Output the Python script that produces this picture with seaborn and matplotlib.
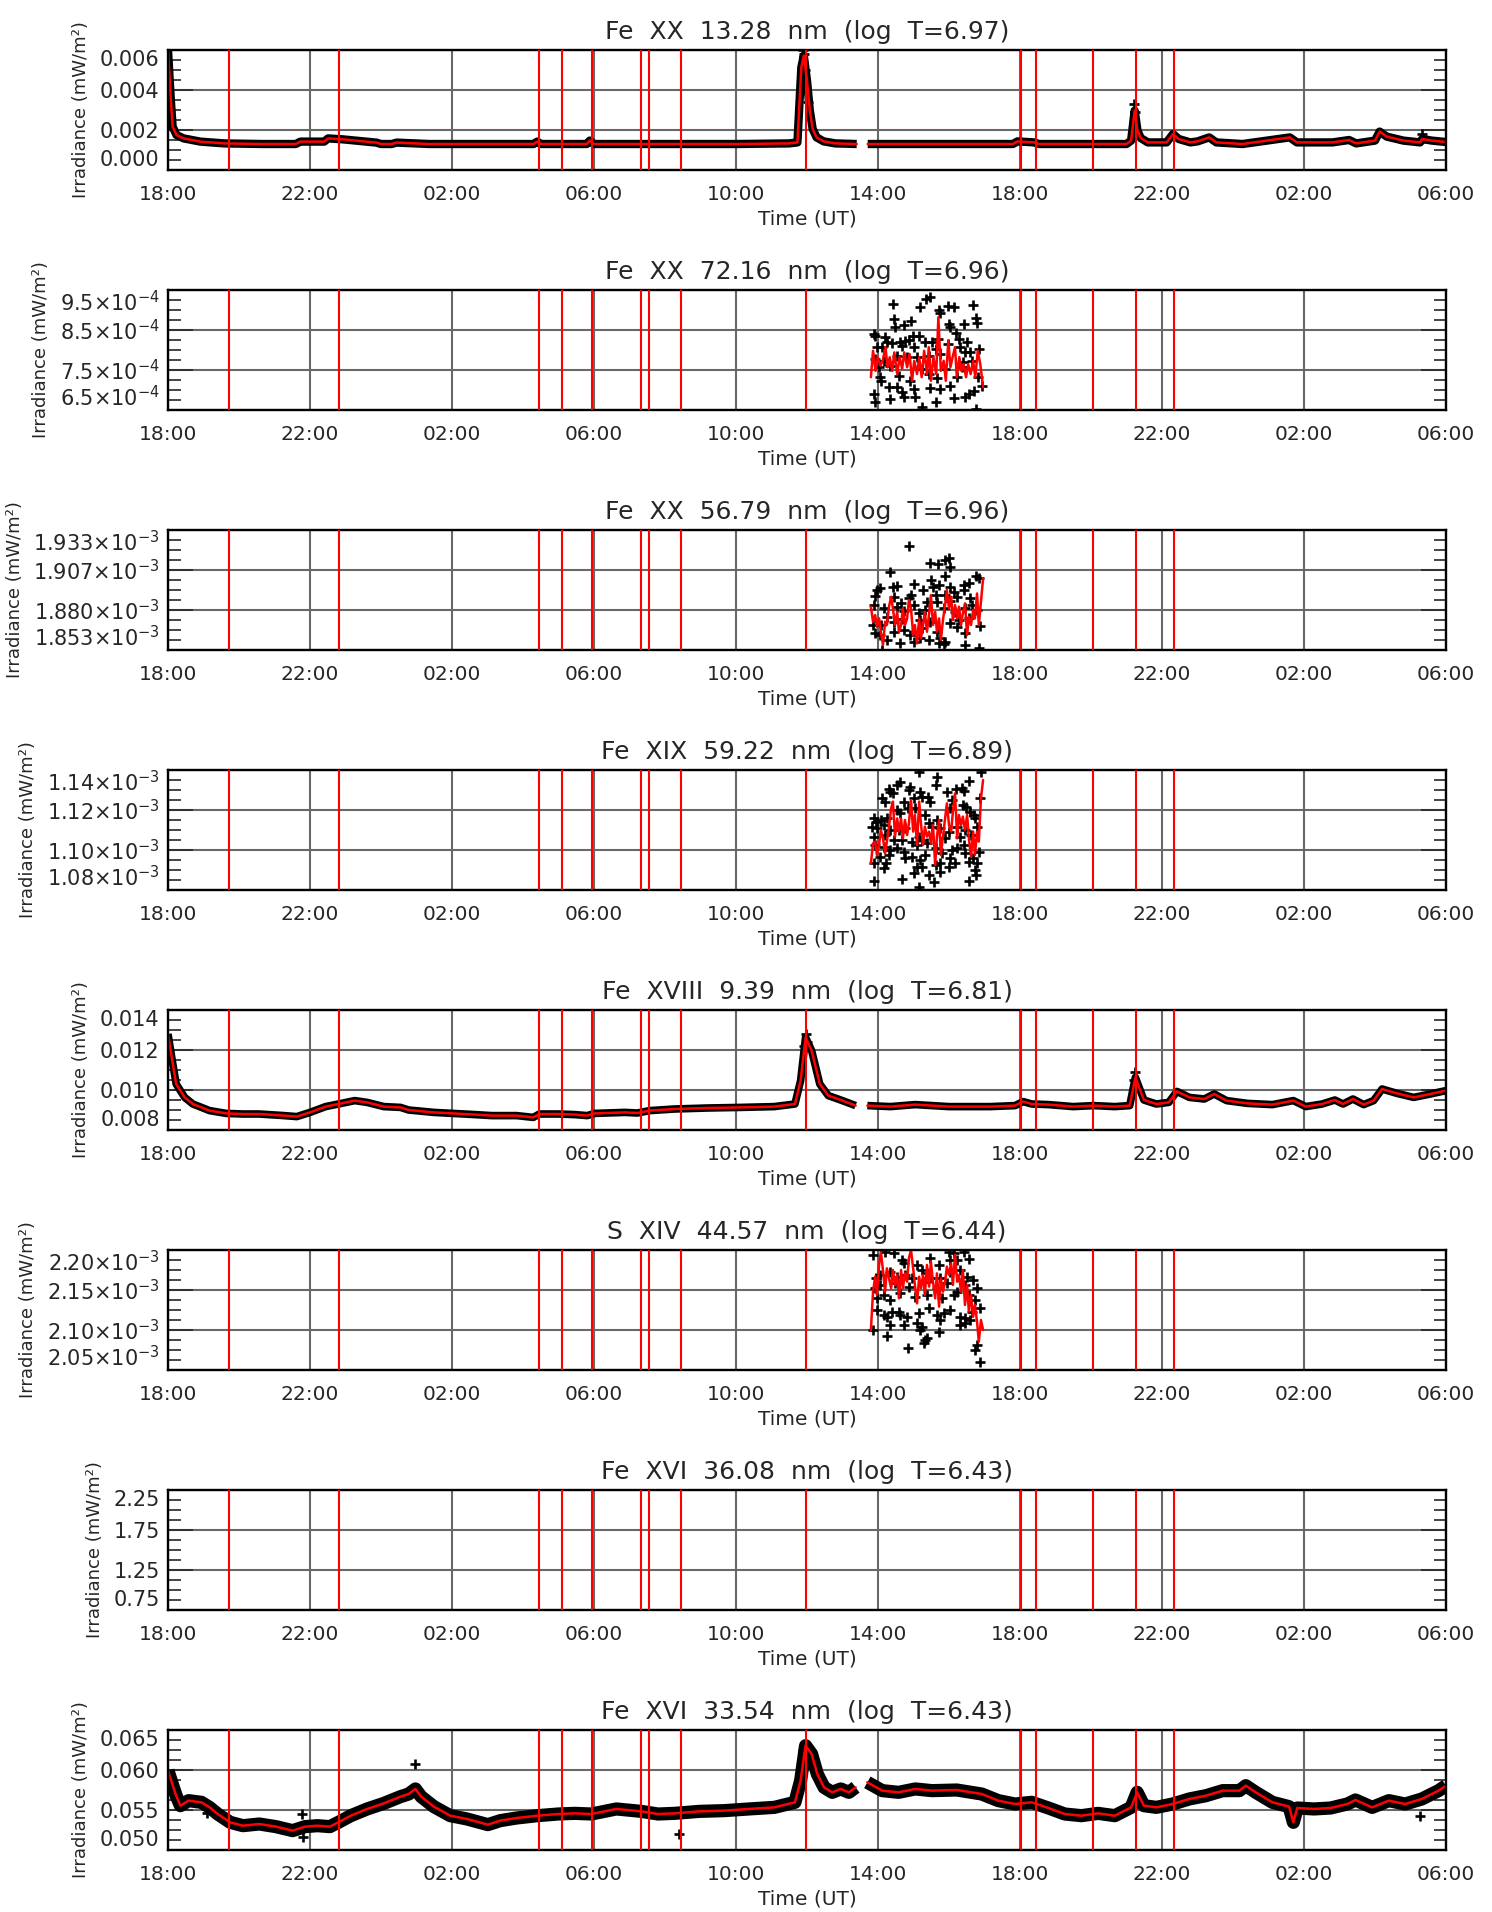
import matplotlib
matplotlib.use("Agg")
import matplotlib.pyplot as plt
from matplotlib.ticker import AutoMinorLocator
import numpy as np
import pandas as pd
import seaborn as sns

# x axis: hours after 18:00 UT on the first day
tick_hours = [0, 4, 8, 12, 16, 20, 24, 28, 32, 36]
tick_labels = ["18:00", "22:00", "02:00", "06:00", "10:00", "14:00",
               "18:00", "22:00", "02:00", "06:00"]
event_hours = [1.71, 4.82, 10.46, 11.09, 11.93, 13.33, 13.54, 14.46, 17.96,
               24.02, 24.44, 26.06, 27.27, 28.35]
gap_hour = 19.55

titles = ["Fe  XX  13.28  nm  (log  T=6.97)",
          "Fe  XX  72.16  nm  (log  T=6.96)",
          "Fe  XX  56.79  nm  (log  T=6.96)",
          "Fe  XIX  59.22  nm  (log  T=6.89)",
          "Fe  XVIII  9.39  nm  (log  T=6.81)",
          "S  XIV  44.57  nm  (log  T=6.44)",
          "Fe  XVI  36.08  nm  (log  T=6.43)",
          "Fe  XVI  33.54  nm  (log  T=6.43)"]

# ---- Fe XX 13.28 nm (mW/m2)
fe20_133_t = [0.00, 0.08, 0.13, 0.24, 0.44, 0.91, 1.58, 2.66, 3.60, 3.73,
              4.40, 4.51, 4.94, 5.87, 6.00, 6.30, 6.44, 7.35, 10.30, 10.40,
              10.51, 11.80, 11.88, 12.00, 14.00, 16.00, 17.50, 17.73, 17.84, 17.91,
              18.00, 18.08, 18.16, 18.27, 18.47, 18.80, 19.40, 19.71, 21.00, 22.50,
              23.80, 23.93, 24.40, 24.53, 26.00, 27.00, 27.13, 27.23, 27.31, 27.40,
              27.60, 28.13, 28.31, 28.47, 28.80, 29.00, 29.33, 29.53, 30.27, 31.60,
              31.80, 32.80, 33.27, 33.47, 34.00, 34.13, 34.33, 34.80, 35.27, 35.33,
              35.60, 36.00]
fe20_133_v = [0.0060, 0.0035, 0.00217, 0.00175, 0.00158, 0.00142, 0.00133, 0.0013, 0.0013, 0.00142,
              0.00142, 0.00158, 0.00153, 0.00137, 0.0013, 0.0013, 0.00137, 0.0013, 0.0013, 0.00142,
              0.0013, 0.0013, 0.00147, 0.0013, 0.0013, 0.0013, 0.00133, 0.00138, 0.00513, 0.00572,
              0.00447, 0.00297, 0.00205, 0.00163, 0.00143, 0.00133, 0.0013, 0.0013, 0.0013, 0.0013,
              0.0013, 0.00143, 0.00138, 0.0013, 0.0013, 0.0013, 0.00147, 0.00297, 0.00197, 0.0016,
              0.00138, 0.00138, 0.0018, 0.00155, 0.00138, 0.00143, 0.00163, 0.00138, 0.0013, 0.00163,
              0.00138, 0.00138, 0.0015, 0.00133, 0.00147, 0.00192, 0.00167, 0.00147, 0.00138, 0.00155,
              0.00147, 0.0014]
fe20_133_pt_t = [17.86, 17.88, 17.90, 17.92, 17.95, 17.97, 18.02, 27.22, 27.24, 35.33]
fe20_133_pt_v = [0.0044, 0.0052, 0.0060, 0.0058, 0.0050, 0.0041, 0.0034, 0.0033, 0.0029, 0.0018]

# ---- common time stamps of the short afternoon series
flare_t = [19.80, 19.86, 19.92, 19.97, 20.03, 20.08, 20.14, 20.20, 20.25, 20.31,
           20.37, 20.42, 20.48, 20.54, 20.59, 20.65, 20.70, 20.76, 20.82, 20.87,
           20.93, 20.99, 21.04, 21.10, 21.16, 21.21, 21.27, 21.32, 21.38, 21.44,
           21.49, 21.55, 21.61, 21.66, 21.72, 21.77, 21.83, 21.89, 21.94, 22.00,
           22.06, 22.11, 22.17, 22.23, 22.28, 22.34, 22.39, 22.45, 22.51, 22.56,
           22.62, 22.68, 22.73, 22.79, 22.84, 22.90, 22.96]

# ---- Fe XX 72.16 nm (1e-4 mW/m2)
fe20_721_t = [19.80, 19.86, 19.93, 19.99, 20.07, 20.13, 20.21, 20.27, 20.33, 20.40,
              20.46, 20.54, 20.61, 20.68, 20.74, 20.82, 20.89, 20.96, 21.02, 21.10,
              21.16, 21.23, 21.30, 21.38, 21.43, 21.49, 21.56, 21.64, 21.70, 21.77,
              21.85, 21.91, 21.98, 22.04, 22.10, 22.17, 22.22, 22.29, 22.35, 22.41,
              22.48, 22.54, 22.61, 22.68, 22.74, 22.81, 22.88, 22.96]
fe20_721_v = [7.32, 7.98, 7.48, 7.82, 7.61, 7.73, 8.07, 7.57, 7.82, 7.48,
              7.94, 7.40, 7.82, 7.53, 7.94, 7.57, 7.90, 7.23, 7.73, 7.40,
              7.82, 7.32, 7.98, 7.40, 8.07, 7.23, 7.82, 7.40, 8.82, 7.48,
              7.73, 7.23, 8.23, 7.57, 7.82, 8.07, 7.32, 7.82, 7.48, 7.65,
              7.32, 7.65, 7.40, 7.73, 7.32, 7.98, 7.65, 7.07]
fe20_721_pt_t = [20.41, 21.19, 21.36, 21.46, 21.71, 21.96, 22.13, 22.69, 20.44, 20.72,
                 20.94, 20.47, 21.74, 21.99, 22.77, 22.79, 22.41, 22.04, 19.88, 19.92,
                 20.19, 20.25, 20.61, 20.77, 20.86, 20.98, 21.15, 21.31, 21.52, 21.68,
                 22.21, 22.27, 22.51, 19.97, 20.11, 20.39, 20.68, 21.00, 21.62, 21.96,
                 22.32, 22.46, 22.60, 22.85, 19.91, 20.18, 20.54, 20.82, 21.10, 21.45,
                 21.76, 22.39, 22.65, 20.02, 20.35, 21.24, 21.90, 22.37, 20.07, 20.09,
                 20.60, 20.91, 21.43, 21.66, 22.23, 22.82, 22.93, 20.30, 20.54, 20.68,
                 21.00, 21.47, 21.76, 22.04, 22.55, 22.71, 19.88, 19.92, 20.33, 20.72,
                 21.05, 21.64, 22.13, 22.46, 21.24, 22.77]
fe20_721_pt_v = [9.15, 9.08, 9.28, 9.32, 9.00, 9.11, 9.08, 9.13, 8.78, 8.63,
                 8.72, 8.57, 8.92, 8.65, 8.79, 8.67, 8.65, 8.57, 8.40, 8.36,
                 8.33, 8.21, 8.19, 8.23, 8.25, 8.36, 8.36, 8.19, 8.19, 8.28,
                 8.42, 8.28, 8.21, 8.07, 8.07, 8.17, 8.11, 8.07, 8.03, 8.15,
                 8.07, 7.94, 7.94, 8.03, 7.78, 7.73, 7.86, 7.82, 7.82, 7.86,
                 7.90, 7.69, 7.73, 7.57, 7.61, 7.53, 7.53, 7.58, 7.32, 7.23,
                 7.36, 7.23, 7.40, 7.30, 7.32, 7.32, 7.11, 7.07, 7.07, 6.94,
                 7.03, 7.05, 7.03, 7.11, 6.90, 6.98, 6.90, 6.69, 6.78, 6.83,
                 6.82, 6.69, 6.80, 6.82, 6.57, 6.53]

# ---- Fe XX 56.79 nm (1e-3 mW/m2)
fe20_568_v = [1.8822, 1.8722, 1.8766, 1.8688, 1.8744, 1.8655, 1.8566, 1.8722, 1.8700, 1.8822,
              1.8888, 1.8811, 1.8700, 1.8788, 1.8655, 1.8700, 1.8811, 1.8700, 1.8744, 1.8866,
              1.8811, 1.8633, 1.8700, 1.8577, 1.8744, 1.8611, 1.8700, 1.8788, 1.8655, 1.8777,
              1.8899, 1.8700, 1.8788, 1.8655, 1.8744, 1.8600, 1.8733, 1.8833, 1.8933, 1.8811,
              1.8888, 1.8733, 1.8833, 1.8744, 1.8822, 1.8700, 1.8777, 1.8844, 1.8633, 1.8755,
              1.8700, 1.8799, 1.8744, 1.8910, 1.8700, 1.8855, 1.9010]
fe20_568_pt_t = [20.86, 21.47, 21.68, 21.90, 21.99, 22.04, 21.88, 20.33, 21.50, 22.77,
                 22.84, 22.55, 22.41, 21.00, 20.42, 20.54, 20.05, 19.91, 19.97, 21.27,
                 21.55, 21.71, 22.04, 22.13, 22.41, 20.94, 20.44, 21.62, 21.90, 22.23,
                 20.66, 20.86, 21.00, 21.38, 21.66, 22.04, 22.60, 22.65, 19.88, 20.16,
                 20.54, 20.74, 21.15, 21.33, 21.85, 22.18, 22.46, 22.79, 20.25, 20.44,
                 20.68, 21.19, 21.47, 22.04, 22.27, 22.55, 22.88, 19.86, 20.08, 19.92,
                 20.05, 20.44, 20.72, 21.24, 21.66, 22.23, 22.46, 20.25, 20.91, 21.19,
                 21.43, 21.76, 21.90, 20.63, 21.00, 21.71, 21.85, 22.46, 20.11, 22.84]
fe20_568_pt_v = [1.9228, 1.9115, 1.9104, 1.9132, 1.9144, 1.9088, 1.9028, 1.9055, 1.8999, 1.9028,
                 1.9010, 1.8977, 1.8966, 1.8970, 1.8955, 1.8959, 1.8948, 1.8895, 1.8933, 1.8933,
                 1.8955, 1.8966, 1.8955, 1.8922, 1.8933, 1.8899, 1.8888, 1.8899, 1.8899, 1.8888,
                 1.8844, 1.8877, 1.8833, 1.8855, 1.8855, 1.8859, 1.8877, 1.8833, 1.8833, 1.8811,
                 1.8822, 1.8793, 1.8777, 1.8799, 1.8811, 1.8788, 1.8811, 1.8799, 1.8755, 1.8722,
                 1.8739, 1.8733, 1.8722, 1.8711, 1.8733, 1.8744, 1.8693, 1.8700, 1.8700, 1.8644,
                 1.8633, 1.8655, 1.8666, 1.8677, 1.8655, 1.8688, 1.8644, 1.8600, 1.8633, 1.8611,
                 1.8600, 1.8611, 1.8589, 1.8577, 1.8589, 1.8577, 1.8571, 1.8566, 1.8533, 1.8549]

# ---- Fe XIX 59.22 nm (1e-3 mW/m2)
fe19_592_v = [1.0933, 1.1033, 1.1042, 1.0975, 1.1025, 1.1100, 1.1058, 1.0983, 1.1042, 1.1117,
              1.1208, 1.1242, 1.1067, 1.1158, 1.1092, 1.1158, 1.1058, 1.1150, 1.1075, 1.1133,
              1.1250, 1.1092, 1.1175, 1.1025, 1.1242, 1.1133, 1.1025, 1.1117, 1.1067, 1.1092,
              1.1033, 1.1125, 1.0925, 1.1067, 1.1150, 1.0975, 1.1067, 1.1158, 1.1233, 1.1125,
              1.1092, 1.1192, 1.1283, 1.1058, 1.1175, 1.1125, 1.1167, 1.1100, 1.1175, 1.1058,
              1.0967, 1.1092, 1.0975, 1.1092, 1.1042, 1.1258, 1.1350]
fe19_592_pt_t = [21.15, 21.66, 22.90, 22.55, 22.37, 20.63, 20.54, 20.30, 20.35, 20.42,
                 20.91, 20.86, 21.62, 22.21, 21.19, 21.40, 21.94, 22.41, 20.11, 20.19,
                 20.72, 21.00, 21.24, 21.47, 22.08, 22.86, 19.88, 19.95, 20.09, 20.25,
                 20.54, 20.61, 20.84, 21.05, 21.33, 21.66, 22.04, 22.39, 22.49, 22.60,
                 22.71, 22.74, 19.83, 19.97, 20.16, 20.35, 20.58, 20.77, 21.43, 21.52,
                 21.76, 21.99, 22.23, 22.46, 22.79, 19.90, 20.21, 20.44, 20.68, 20.96,
                 21.15, 21.24, 21.90, 22.32, 22.62, 19.92, 20.16, 20.35, 20.54, 20.72,
                 21.10, 21.38, 21.62, 22.08, 22.23, 22.41, 22.84, 20.07, 20.30, 20.77,
                 20.96, 21.33, 21.80, 22.04, 22.46, 22.69, 19.88, 20.16, 20.23, 21.19,
                 21.10, 21.24, 21.62, 21.76, 21.99, 22.18, 22.55, 22.79, 22.74, 21.00,
                 21.43, 21.76, 21.57, 20.68, 19.90, 21.15, 22.55, 22.77]
fe19_592_pt_v = [1.1388, 1.1367, 1.1392, 1.1345, 1.1312, 1.1338, 1.1325, 1.1305, 1.1292, 1.1283,
                 1.1317, 1.1300, 1.1325, 1.1305, 1.1292, 1.1267, 1.1292, 1.1295, 1.1258, 1.1238,
                 1.1242, 1.1258, 1.1267, 1.1238, 1.1250, 1.1262, 1.1158, 1.1142, 1.1150, 1.1158,
                 1.1200, 1.1183, 1.1208, 1.1208, 1.1175, 1.1150, 1.1208, 1.1225, 1.1217, 1.1192,
                 1.1175, 1.1158, 1.1117, 1.1108, 1.1125, 1.1100, 1.1100, 1.1108, 1.1133, 1.1117,
                 1.1108, 1.1092, 1.1117, 1.1100, 1.1117, 1.1067, 1.1075, 1.1050, 1.1050, 1.1042,
                 1.1067, 1.1050, 1.1058, 1.1067, 1.1075, 1.1025, 1.1017, 1.1000, 1.1008, 1.0992,
                 1.1025, 1.1033, 1.1008, 1.1000, 1.1012, 1.1025, 1.0992, 1.0967, 1.0975, 1.0958,
                 1.0967, 1.0975, 1.0983, 1.0962, 1.0983, 1.0958, 1.0933, 1.0908, 1.0933, 1.0950,
                 1.0917, 1.0917, 1.0925, 1.0933, 1.0917, 1.0933, 1.0942, 1.0933, 1.0900, 1.0883,
                 1.0875, 1.0892, 1.0842, 1.0855, 1.0845, 1.0817, 1.0845, 1.0875]

# ---- Fe XVIII 9.39 nm (mW/m2)
fe18_094_t = [0.00, 0.12, 0.23, 0.47, 0.70, 1.17, 1.64, 2.11, 2.57, 3.27,
              3.63, 4.00, 4.44, 4.80, 5.26, 5.61, 6.08, 6.55, 6.78, 7.49,
              8.02, 8.65, 9.12, 9.82, 10.29, 10.46, 10.99, 11.46, 11.81, 12.02,
              12.87, 13.22, 13.57, 14.27, 15.20, 16.14, 17.08, 17.66, 17.82, 17.96,
              18.13, 18.36, 18.60, 18.95, 19.37, 19.70, 20.35, 21.05, 21.99, 23.16,
              23.86, 24.09, 24.33, 24.80, 25.50, 26.08, 26.67, 27.09, 27.25, 27.49,
              27.84, 28.19, 28.42, 28.77, 29.19, 29.47, 29.82, 30.41, 31.11, 31.70,
              32.05, 32.51, 32.87, 33.10, 33.38, 33.68, 33.96, 34.20, 34.62, 35.09,
              35.56, 36.00]
fe18_094_v = [0.0128, 0.01147, 0.0103, 0.00963, 0.0093, 0.00897, 0.00883, 0.0088, 0.0088, 0.00872,
              0.00867, 0.00888, 0.00917, 0.0093, 0.00947, 0.00938, 0.00917, 0.00913, 0.009, 0.00888,
              0.00883, 0.00877, 0.00872, 0.00872, 0.00863, 0.0088, 0.0088, 0.00877, 0.00872, 0.00883,
              0.00888, 0.00885, 0.00897, 0.00905, 0.0091, 0.00913, 0.00917, 0.0093, 0.01047, 0.01263,
              0.01197, 0.0103, 0.00972, 0.0095, 0.00922, 0.00922, 0.00917, 0.00927, 0.00917, 0.00917,
              0.00922, 0.00942, 0.0093, 0.00927, 0.00917, 0.00922, 0.00917, 0.00922, 0.01063, 0.0095,
              0.0093, 0.00938, 0.00993, 0.00963, 0.00955, 0.0098, 0.00947, 0.00933, 0.00927, 0.00947,
              0.00917, 0.0093, 0.0095, 0.0093, 0.00955, 0.00927, 0.00947, 0.01005, 0.00983, 0.00963,
              0.0098, 0.00997]
fe18_094_pt_t = [17.92, 17.96, 18.00, 27.22, 27.25]
fe18_094_pt_v = [0.0122, 0.0128, 0.0124, 0.0105, 0.0109]

# ---- S XIV 44.57 nm (1e-3 mW/m2)
s14_446_v = [2.1000, 2.1479, 2.1667, 2.1438, 2.1813, 2.1979, 2.1750, 2.1479, 2.1771, 2.1646,
             2.1521, 2.1750, 2.1563, 2.1688, 2.1396, 2.1750, 2.1521, 2.1708, 2.1604, 2.1896,
             2.2000, 2.1771, 2.1563, 2.1333, 2.1667, 2.1521, 2.1688, 2.1438, 2.1813, 2.1542,
             2.1854, 2.1604, 2.1396, 2.1708, 2.1292, 2.1646, 2.1479, 2.1604, 2.1792, 2.1688,
             2.1833, 2.1563, 2.1938, 2.1604, 2.1688, 2.1479, 2.1750, 2.1313, 2.1563, 2.1229,
             2.1438, 2.1167, 2.1313, 2.1104, 2.0854, 2.1125, 2.1000]
s14_446_pt_t = [19.86, 20.21, 20.44, 21.99, 22.13, 22.41, 22.23, 20.68, 20.72, 21.47,
                21.71, 22.04, 22.55, 21.10, 21.24, 21.38, 20.35, 19.95, 20.07, 20.54,
                20.77, 20.96, 21.47, 21.76, 22.04, 22.32, 22.51, 19.92, 20.07, 20.49,
                20.86, 21.29, 21.66, 21.94, 22.23, 22.46, 22.69, 22.79, 19.97, 20.16,
                20.35, 20.63, 21.05, 21.38, 21.80, 22.13, 22.55, 22.74, 19.97, 20.16,
                20.25, 20.39, 20.58, 20.63, 20.82, 21.15, 21.43, 21.66, 21.85, 22.04,
                22.32, 22.46, 22.65, 22.88, 20.35, 20.72, 21.10, 21.24, 21.76, 22.32,
                22.46, 22.60, 19.86, 20.25, 21.71, 21.19, 20.84, 21.33, 21.38, 21.29,
                22.79, 22.74, 22.88]
s14_446_pt_v = [2.1938, 2.1979, 2.1958, 2.1979, 2.1958, 2.1971, 2.1875, 2.1875, 2.1833, 2.1896,
                2.1813, 2.1875, 2.1888, 2.1813, 2.1750, 2.1708, 2.1729, 2.1646, 2.1688, 2.1667,
                2.1688, 2.1646, 2.1646, 2.1646, 2.1729, 2.1750, 2.1667, 2.1521, 2.1563, 2.1583,
                2.1542, 2.1604, 2.1521, 2.1583, 2.1479, 2.1563, 2.1625, 2.1521, 2.1396, 2.1438,
                2.1375, 2.1458, 2.1417, 2.1438, 2.1396, 2.1438, 2.1438, 2.1375, 2.1250, 2.1188,
                2.1167, 2.1229, 2.1229, 2.1188, 2.1167, 2.1208, 2.1271, 2.1188, 2.1208, 2.1250,
                2.1167, 2.1146, 2.1229, 2.1271, 2.1063, 2.1063, 2.1083, 2.1042, 2.1125, 2.1063,
                2.1083, 2.1125, 2.1000, 2.0929, 2.0971, 2.1000, 2.0779, 2.0875, 2.0896, 2.0833,
                2.0813, 2.0750, 2.0604]

# ---- Fe XVI 33.54 nm (mW/m2)
fe16_335_t = [0.00, 0.12, 0.23, 0.35, 0.58, 0.94, 1.17, 1.40, 1.75, 2.11,
              2.57, 3.04, 3.51, 3.86, 4.21, 4.56, 4.80, 5.15, 5.61, 6.08,
              6.55, 6.78, 6.97, 7.13, 7.49, 7.95, 8.42, 9.01, 9.36, 9.82,
              10.41, 10.99, 11.46, 11.93, 12.63, 13.33, 13.80, 14.27, 14.97, 15.67,
              16.37, 17.08, 17.66, 17.82, 17.96, 18.13, 18.29, 18.48, 18.71, 18.95,
              19.18, 19.37, 19.70, 20.12, 20.58, 21.05, 21.52, 22.22, 22.92, 23.39,
              23.86, 24.33, 24.80, 25.26, 25.73, 26.20, 26.67, 27.13, 27.30, 27.49,
              27.84, 28.30, 28.77, 29.24, 29.71, 30.18, 30.36, 30.64, 31.11, 31.58,
              31.70, 31.81, 32.28, 32.75, 33.22, 33.45, 33.92, 34.39, 34.85, 35.32,
              35.79, 36.00]
fe16_335_v = [0.05992, 0.05825, 0.05679, 0.05554, 0.05617, 0.05596, 0.05533, 0.0545, 0.05346, 0.05304,
              0.05325, 0.05292, 0.05242, 0.05292, 0.05304, 0.05292, 0.05346, 0.05429, 0.05513, 0.05583,
              0.05667, 0.057, 0.05763, 0.05667, 0.05542, 0.05429, 0.05388, 0.05317, 0.05367, 0.054,
              0.05429, 0.0545, 0.05458, 0.0545, 0.05513, 0.05483, 0.0545, 0.05458, 0.05483, 0.05492,
              0.05513, 0.05533, 0.05596, 0.05867, 0.06304, 0.062, 0.0595, 0.05783, 0.05721, 0.05763,
              0.05721, 0.05783, 0.05846, 0.05742, 0.05721, 0.05763, 0.05742, 0.0575, 0.057, 0.05617,
              0.05575, 0.05596, 0.05525, 0.0545, 0.05429, 0.05458, 0.05429, 0.05533, 0.05721, 0.05554,
              0.05533, 0.05575, 0.05638, 0.05679, 0.05742, 0.05742, 0.05804, 0.05721, 0.05596, 0.05542,
              0.05346, 0.05525, 0.05513, 0.05525, 0.05575, 0.05625, 0.05533, 0.05617, 0.05575, 0.05638,
              0.05742, 0.05804]
fe16_335_pt_t = [1.09, 3.77, 3.79, 6.96, 14.39, 17.90, 17.93, 35.27]
fe16_335_pt_v = [0.05466, 0.05446, 0.05167, 0.0607, 0.0520, 0.0625, 0.0615, 0.05429]

# y ticks (in the units of each series) and their labels
yt_1328 = [0.000, 0.002, 0.004, 0.006]
yl_1328 = ["0.000", "0.002", "0.004", "0.006"]
yt_7216 = [6.5, 7.5, 8.5, 9.5]
yl_7216 = [r"$6.5{\times}10^{-4}$", r"$7.5{\times}10^{-4}$", r"$8.5{\times}10^{-4}$", r"$9.5{\times}10^{-4}$"]
yt_5679 = [1.85333, 1.88, 1.90667, 1.93333]
yl_5679 = [r"$1.853{\times}10^{-3}$", r"$1.880{\times}10^{-3}$", r"$1.907{\times}10^{-3}$", r"$1.933{\times}10^{-3}$"]
yt_5922 = [1.08, 1.10, 1.12, 1.14]
yl_5922 = [r"$1.08{\times}10^{-3}$", r"$1.10{\times}10^{-3}$", r"$1.12{\times}10^{-3}$", r"$1.14{\times}10^{-3}$"]
yt_939 = [0.008, 0.010, 0.012, 0.014]
yl_939 = ["0.008", "0.010", "0.012", "0.014"]
yt_4457 = [2.05, 2.10, 2.15, 2.20]
yl_4457 = [r"$2.05{\times}10^{-3}$", r"$2.10{\times}10^{-3}$", r"$2.15{\times}10^{-3}$", r"$2.20{\times}10^{-3}$"]
yt_3608 = [0.75, 1.25, 1.75, 2.25]
yl_3608 = ["0.75", "1.25", "1.75", "2.25"]
yt_3354 = [0.050, 0.055, 0.060, 0.065]
yl_3354 = ["0.050", "0.055", "0.060", "0.065"]

panels = [
    dict(fit=(fe20_133_t, fe20_133_v), pts=(fe20_133_pt_t, fe20_133_pt_v), band=6.0, yt=yt_1328, yl=yl_1328),
    dict(fit=(fe20_721_t, fe20_721_v), pts=(fe20_721_pt_t, fe20_721_pt_v), band=0, yt=yt_7216, yl=yl_7216),
    dict(fit=(flare_t, fe20_568_v), pts=(fe20_568_pt_t, fe20_568_pt_v), band=0, yt=yt_5679, yl=yl_5679),
    dict(fit=(flare_t, fe19_592_v), pts=(fe19_592_pt_t, fe19_592_pt_v), band=0, yt=yt_5922, yl=yl_5922),
    dict(fit=(fe18_094_t, fe18_094_v), pts=(fe18_094_pt_t, fe18_094_pt_v), band=5.5, yt=yt_939, yl=yl_939),
    dict(fit=(flare_t, s14_446_v), pts=(s14_446_pt_t, s14_446_pt_v), band=0, yt=yt_4457, yl=yl_4457),
    dict(fit=None, pts=None, band=0, yt=yt_3608, yl=yl_3608),
    dict(fit=(fe16_335_t, fe16_335_v), pts=(fe16_335_pt_t, fe16_335_pt_v), band=9.5, yt=yt_3354, yl=yl_3354),
]

sns.set_style("white")
plt.rcParams["font.family"] = ["DejaVu Sans"]
plt.rcParams["mathtext.fontset"] = "dejavusans"
plt.rcParams["mathtext.default"] = "regular"

W, H = 1492, 1912
fig = plt.figure(figsize=(W / 100, H / 100), dpi=100)
left_px, right_px, top0_px, step_px, h_px = 168, 1446, 50, 240, 120

for i, p in enumerate(panels):
    bottom = 1 - (top0_px + i * step_px + h_px) / H
    ax = fig.add_axes([left_px / W, bottom, (right_px - left_px) / W, h_px / H])
    ax.set_axisbelow(True)
    ax.grid(True, which="major", color="#686868", lw=1.5)

    if p["fit"] is not None:
        df = pd.DataFrame({"t": p["fit"][0], "v": p["fit"][1]})
        df["seg"] = (df["t"] > gap_hour).astype(int)
        if p["band"]:
            sns.lineplot(data=df, x="t", y="v", units="seg", estimator=None, sort=False,
                         color="black", lw=p["band"], solid_capstyle="butt",
                         solid_joinstyle="round", ax=ax)
        sns.scatterplot(x=p["pts"][0], y=p["pts"][1], marker="+", color="black",
                        s=60, linewidth=1.9, ax=ax, legend=False)
        sns.lineplot(data=df, x="t", y="v", units="seg", estimator=None, sort=False,
                     color="red", lw=1.8, ax=ax)

    for eh in event_hours:
        ax.axvline(eh, color="red", lw=1.5, zorder=4)

    ax.set_xlim(tick_hours[0], tick_hours[-1])
    ax.set_ylim(p["yt"][0], p["yt"][-1])
    ax.set_xticks(tick_hours, tick_labels)
    ax.set_yticks(p["yt"], p["yl"])
    ax.yaxis.set_minor_locator(AutoMinorLocator(4))

    ax.tick_params(axis="x", which="both", length=0, pad=11, labelsize=14.5)
    ax.tick_params(axis="y", which="major", direction="in", length=18, width=1.2,
                   left=True, right=True, labelsize=15, pad=6)
    ax.tick_params(axis="y", which="minor", direction="in", length=9, width=1.2,
                   left=True, right=True)
    for sp in ax.spines.values():
        sp.set_visible(True)
        sp.set_color("black")
        sp.set_linewidth(1.7)

    ax.set_title(titles[i], fontsize=18, pad=8)
    ax.set_xlabel("Time (UT)", fontsize=14.5, labelpad=4)
    ax.set_ylabel("Irradiance (mW/m²)", fontsize=13, labelpad=7)

    labs = ax.get_yticklabels()
    labs[0].set_va("bottom")
    labs[-1].set_va("top")

fig.savefig("out.png", dpi=100)
